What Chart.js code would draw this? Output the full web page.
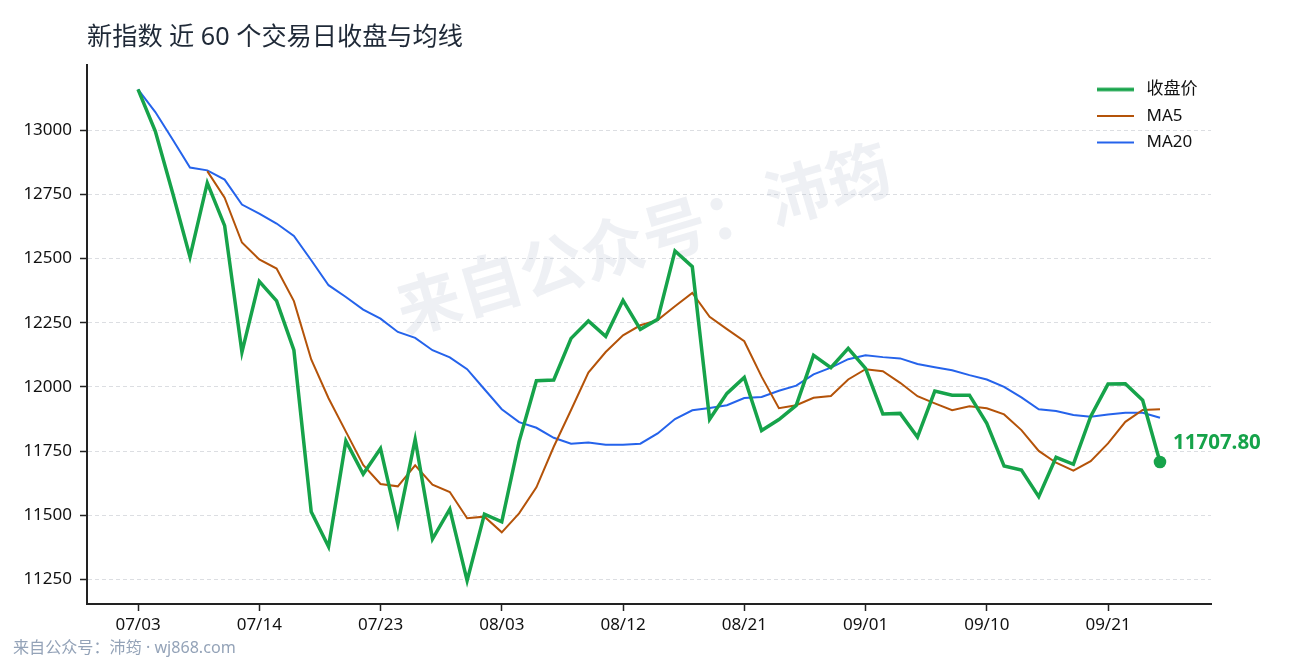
<!DOCTYPE html>
<html><head><meta charset="utf-8">
<style>html,body{margin:0;padding:0;background:#fff}#w{width:1290px;height:660px;position:relative}</style>
<script src="https://cdn.jsdelivr.net/npm/chart.js@4"></script>
</head><body><div id="w"><canvas id="c" width="1290" height="660"></canvas></div>
<script>
const categories=["07/03","07/04","07/07","07/08","07/09","07/10","07/11","07/14","07/15","07/16","07/17","07/18","07/21","07/22","07/23","07/24","07/25","07/28","07/29","07/30","07/31","08/03","08/04","08/05","08/06","08/07","08/08","08/11","08/12","08/13","08/14","08/15","08/18","08/19","08/20","08/21","08/22","08/25","08/26","08/27","08/28","08/29","09/01","09/02","09/03","09/04","09/05","09/08","09/09","09/10","09/11","09/12","09/15","09/16","09/17","09/18","09/21","09/22","09/23","09/24"];
const closeValues=[13158,12995,12755,12506,12794,12628,12135,12411,12335,12143,11514,11378,11790,11661,11760,11466,11796,11408,11524,11246,11505,11475,11787,12024,12027,12189,12257,12197,12337,12224,12263,12529,12468,11874,11975,12037,11830,11873,11928,12123,12075,12150,12072,11895,11897,11805,11984,11968,11968,11858,11692,11676,11573,11726,11699,11885,12011,12012,11948,11707.8];
const ma5Values=[null,null,null,null,12840,12737,12562,12496,12461,12334,12107,11956,11826,11696,11622,11613,11695,11620,11591,11489,11495,11434,11508,11609,11767,11910,12056,12136,12201,12240,12260,12314,12366,12273,12225,12178,12040,11917,11929,11958,11965,12029,12069,12061,12016,11964,11936,11909,11925,11917,11893,11832,11751,11705,11674,11711,11780,11864,11910,11913];
const ma20Values=[13158,13070,12963,12854,12843,12807,12710,12675,12636,12588,12493,12396,12350,12301,12266,12214,12191,12143,12115,12069,11991,11913,11863,11841,11802,11779,11784,11775,11775,11779,11819,11875,11909,11918,11929,11957,11961,11985,12005,12049,12075,12108,12123,12116,12111,12089,12077,12065,12046,12029,12000,11959,11913,11906,11891,11884,11893,11899,11899,11880];
const yTickValues=[11250,11500,11750,12000,12250,12500,12750,13000];
const xTickIndexes=[0,7,14,21,28,35,42,49,56];
const seriesNames=["收盘价","MA5","MA20"];
const titleText="新指数 近 60 个交易日收盘与均线";
const watermarkText="来自公众号：沛筠";
const footerText="来自公众号：沛筠 · wj868.com";
const lastLabel="11707.80";

const FONT='"Noto Sans","Noto Sans CJK SC",sans-serif';
const GREEN='#16a34a',ORANGE='#b45309',BLUE='#2563eb';
const AREA={left:87,right:1211,top:65,bottom:604};
const toXY=a=>a.map((v,i)=>({x:i,y:v}));
function swatch(color,lw){
  const s=document.createElement('canvas');s.width=41;s.height=8;
  const g=s.getContext('2d');g.strokeStyle=color;g.lineWidth=lw;
  g.beginPath();g.moveTo(0,4);g.lineTo(37,4);g.stroke();return s;
}
const swatches=[swatch(GREEN,3.5),swatch(ORANGE,2),swatch(BLUE,2)];

const decor={
  id:'decor',
  afterLayout(chart){
    const l=chart.legend;
    l.left=1097-9.5;l.right=1280;l.top=71.5;l.bottom=600;
  },
  beforeDatasetsDraw(chart){
    const c=chart.ctx;c.save();
    c.translate(645,244);c.rotate(-16.5*Math.PI/180);
    c.font='bold 64px '+FONT;c.fillStyle='rgba(148,163,184,0.16)';
    c.textAlign='center';c.textBaseline='middle';
    c.fillText(watermarkText,0,0);c.restore();
  },
  afterDraw(chart){
    const c=chart.ctx;c.save();
    c.font='16.1px '+FONT;c.fillStyle='#94a3b8';c.textAlign='left';c.textBaseline='middle';
    c.fillText(footerText,13,648);
    const sx=chart.scales.x,sy=chart.scales.y,i=closeValues.length-1;
    c.font='bold 20.5px '+FONT;c.fillStyle=GREEN;
    c.fillText(lastLabel,sx.getPixelForValue(i)+13,sy.getPixelForValue(closeValues[i])-19);
    c.restore();
  }
};

new Chart(document.getElementById('c'),{
  type:'line',
  data:{datasets:[
    {label:seriesNames[0],data:toXY(closeValues),borderColor:GREEN,backgroundColor:GREEN,borderWidth:3.5,tension:0,
     pointRadius:c=>c.dataIndex===closeValues.length-1?6.3:0,pointBackgroundColor:GREEN,pointBorderWidth:0},
    {label:seriesNames[1],data:toXY(ma5Values),borderColor:ORANGE,backgroundColor:ORANGE,borderWidth:2,tension:0,pointRadius:0},
    {label:seriesNames[2],data:toXY(ma20Values),borderColor:BLUE,backgroundColor:BLUE,borderWidth:2,tension:0,pointRadius:0}
  ]},
  options:{
    responsive:false,animation:false,devicePixelRatio:1,
    layout:{padding:{left:0,right:1290-AREA.right,top:0,bottom:0}},
    scales:{
      x:{type:'linear',min:-2.945,max:61.945,
        afterBuildTicks(s){s.ticks=xTickIndexes.map(v=>({value:v}));},
        afterFit(s){s.height=660-AREA.bottom;},
        grid:{drawOnChartArea:false,drawTicks:true,tickLength:7,tickColor:'#222',tickWidth:1.5},
        border:{color:'#222',width:2},
        ticks:{autoSkip:false,maxRotation:0,padding:4,color:'#111',font:{family:FONT,size:17},callback:v=>categories[v]}
      },
      y:{type:'linear',min:11155,max:13253,
        afterBuildTicks(s){s.ticks=yTickValues.map(v=>({value:v}));},
        afterFit(s){s.width=AREA.left;},
        grid:{color:'#dcdee2',lineWidth:1,tickLength:7,tickColor:'#222',tickWidth:1.5},
        border:{color:'#222',width:2,dash:[4,3]},
        ticks:{padding:8,color:'#111',font:{family:FONT,size:17},callback:v=>String(v)}
      }
    },
    plugins:{
      title:{display:true,text:titleText,align:'start',fullSize:false,color:'#1f2937',
        font:{family:FONT,size:25.2,weight:'normal'},padding:{top:23,bottom:11.8}},
      legend:{position:'chartArea',align:'start',
        labels:{usePointStyle:true,pointStyleWidth:41,padding:9.5,color:'#111',font:{family:FONT,size:17},
          generateLabels(chart){
            const items=Chart.defaults.plugins.legend.labels.generateLabels(chart);
            items.forEach((it,i)=>{it.pointStyle=swatches[i];});
            return items;
          }}},
      tooltip:{enabled:false}
    }
  },
  plugins:[decor]
});
</script></body></html>
